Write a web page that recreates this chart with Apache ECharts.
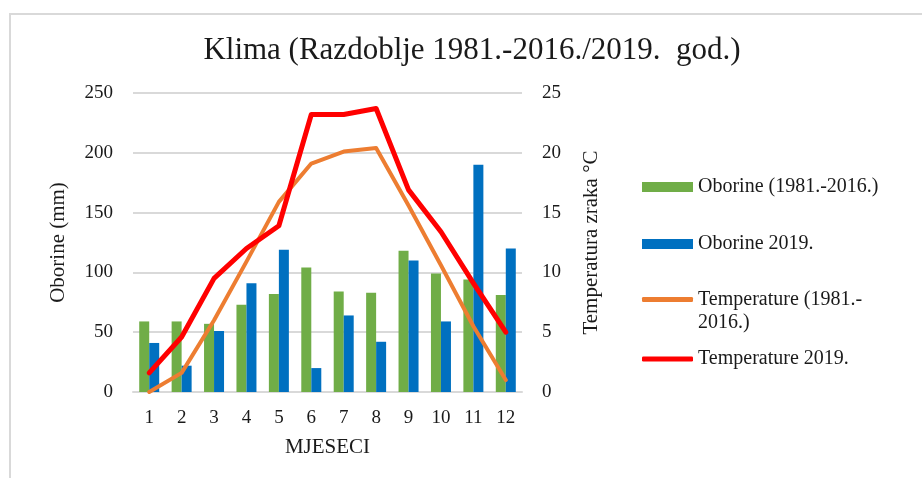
<!DOCTYPE html>
<html>
<head>
<meta charset="utf-8">
<title>Klima</title>
<script src="https://cdn.jsdelivr.net/npm/echarts@6/dist/echarts.min.js"></script>
<style>
  html, body { margin: 0; padding: 0; background: #fff; }
  #chart { width: 922px; height: 478px; }
</style>
</head>
<body>
<div id="chart"></div>
<script>
  // mjeseci
  const months = ['1', '2', '3', '4', '5', '6', '7', '8', '9', '10', '11', '12']
  // oborine (mm)
  const rain8116 = [59, 59, 57, 73, 82, 104, 84, 83, 118, 99, 94, 81]
  const rain2019 = [41, 22, 51, 91, 119, 20, 64, 42, 110, 59, 190, 120]
  // temperatura zraka (°C)
  const temp8116 = [0, 1.6, 6.0, 10.9, 15.9, 19.1, 20.1, 20.4, 15.6, 10.6, 5.5, 1.0]
  const temp2019 = [1.6, 4.6, 9.5, 12.0, 13.9, 23.2, 23.2, 23.7, 16.9, 13.4, 9.1, 5.0]

  const names = ['Oborine (1981.-2016.)', 'Oborine 2019.', 'Temperature (1981.-2016.)', 'Temperature 2019.']
  const colors = ['#70ad47', '#0070c0', '#ed7d31', '#ff0000']

  const font = "'Times New Roman', 'Liberation Serif', serif"
  const txt = '#1a1a1a'
  const gridColor = '#d9d9d9'

  const chart = echarts.init(document.getElementById('chart'))

  // one legend per item so each row sits where the original puts it
  function legendFor(i, top, opts) {
    return Object.assign({
      data: [names[i]],
      orient: 'vertical',
      left: 642,
      top: top,
      padding: 0,
      itemWidth: 51,
      itemHeight: 10,
      icon: 'rect',
      selectedMode: false,
      textStyle: { fontFamily: font, fontSize: 20, color: txt }
    }, opts || {})
  }

  chart.setOption({
    backgroundColor: '#fff',
    animation: false,
    color: colors,
    title: {
      text: 'Klima (Razdoblje 1981.-2016./2019.  god.)',
      left: 472,
      textAlign: 'center',
      top: 35,
      padding: 0,
      textStyle: { fontFamily: font, fontSize: 31, fontWeight: 'normal', color: txt }
    },
    graphic: [{
      type: 'polyline',
      shape: { points: [[10, 478], [10, 14], [922, 14]] },
      style: { stroke: gridColor, lineWidth: 2, fill: null },
      silent: true
    }],
    legend: [
      legendFor(0, 177),
      legendFor(1, 234),
      legendFor(2, 265, {
        itemHeight: 5,
        icon: 'roundRect',
        // blank first line keeps the icon level with the first text line
        formatter: function () { return ' \nTemperature (1981.-\n2016.)' },
        textStyle: { fontFamily: font, fontSize: 20, color: txt, lineHeight: 23 }
      }),
      legendFor(3, 349, { itemHeight: 5, icon: 'roundRect' })
    ],
    grid: { left: 133, right: 400, top: 93, bottom: 86 },
    xAxis: {
      type: 'category',
      data: months,
      name: 'MJESECI',
      nameLocation: 'middle',
      nameGap: 45,
      nameTextStyle: { fontFamily: font, fontSize: 21, color: txt },
      axisLine: { lineStyle: { color: gridColor, width: 2 } },
      axisTick: { show: false },
      axisLabel: { fontFamily: font, fontSize: 19, color: txt, margin: 17 }
    },
    yAxis: [{
      type: 'value',
      min: 0,
      max: 250,
      interval: 50,
      name: 'Oborine (mm)',
      nameLocation: 'middle',
      nameGap: 64,
      nameTextStyle: { fontFamily: font, fontSize: 21, color: txt },
      axisLine: { show: false },
      axisTick: { show: false },
      axisLabel: { fontFamily: font, fontSize: 19, color: txt, margin: 20 },
      splitLine: { lineStyle: { color: gridColor, width: 2 } }
    }, {
      type: 'value',
      min: 0,
      max: 25,
      interval: 5,
      name: 'Temperatura zraka °C',
      nameLocation: 'middle',
      nameGap: 59,
      nameTextStyle: { fontFamily: font, fontSize: 21, color: txt },
      axisLine: { show: false },
      axisTick: { show: false },
      axisLabel: { fontFamily: font, fontSize: 19, color: txt, margin: 20 },
      splitLine: { show: false }
    }],
    series: [{
      name: names[0],
      type: 'bar',
      barWidth: 10,
      barGap: '0%',
      data: rain8116
    }, {
      name: names[1],
      type: 'bar',
      barWidth: 10,
      barGap: '0%',
      data: rain2019
    }, {
      name: names[2],
      type: 'line',
      yAxisIndex: 1,
      symbol: 'none',
      lineStyle: { width: 4, color: colors[2], cap: 'round', join: 'round' },
      data: temp8116
    }, {
      name: names[3],
      type: 'line',
      yAxisIndex: 1,
      symbol: 'none',
      lineStyle: { width: 5, color: colors[3], cap: 'round', join: 'round' },
      data: temp2019
    }]
  })
</script>
</body>
</html>
